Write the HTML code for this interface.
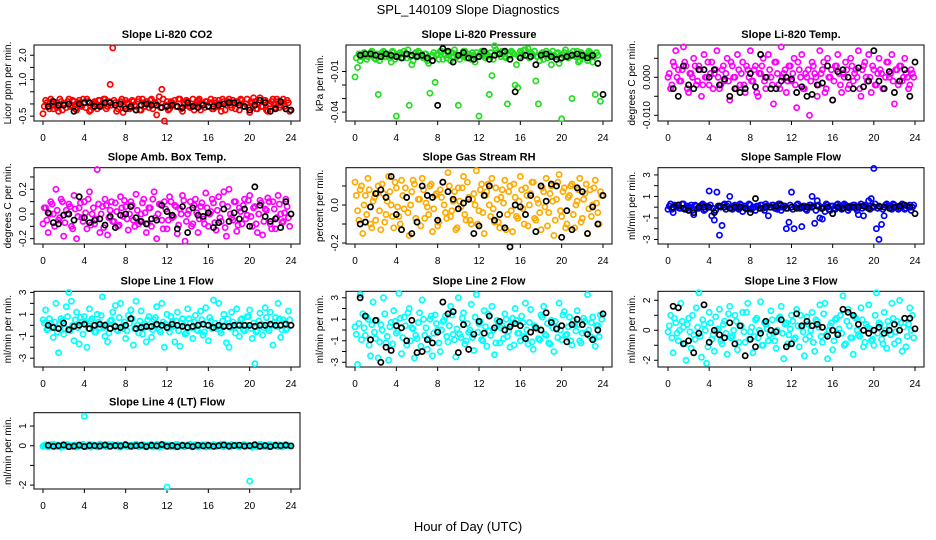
<!DOCTYPE html>
<html><head><meta charset="utf-8"><style>
html,body{margin:0;padding:0;background:#fff;}
svg{display:block;font-family:"Liberation Sans",sans-serif;}
</style></head><body>
<svg id="chart" width="936" height="540" viewBox="0 0 936 540">
<text x="468" y="14" text-anchor="middle" font-size="13">SPL_140109  Slope Diagnostics</text>
<text x="468" y="531" text-anchor="middle" font-size="13">Hour of Day (UTC)</text>
</svg>
<script>
const xTicks = [0,4,8,12,16,20,24];
const titles = ["Slope Li-820 CO2","Slope Li-820 Pressure","Slope Li-820 Temp.","Slope Amb. Box Temp.","Slope Gas Stream RH","Slope Sample Flow","Slope Line 1 Flow","Slope Line 2 Flow","Slope Line 3 Flow","Slope Line 4 (LT) Flow"];
const yTitles = ["Licor ppm per min.","kPa per min.","degrees C per min.","degrees C per min.","percent per min.","ml/min per min.","ml/min per min.","ml/min per min.","ml/min per min.","ml/min per min."];
const colors = ["#ff0000","#22dd22","#ff00ff","#ff00ff","#ffaa00","#0000ff","#00ffff","#00ffff","#00ffff","#00ffff"];
const scales = [1,0.001,0.0001,0.01,0.01,0.1,0.1,0.1,0.1,0.01];
const yTickVals = [[2,1.5,1,0.5,0,-0.5],[-0.01,-0.02,-0.03,-0.04],[0.005,0,-0.005,-0.01],[0.3,0.2,0.1,0,-0.1,-0.2],[0.1,0,-0.1,-0.2],[3,2,1,0,-1,-2,-3],[3,2,1,0,-1,-2,-3],[3,2,1,0,-1,-2,-3],[2,1,0,-1,-2],[1,0,-1,-2]];
const yTickLabels = [["2.0","","1.0","","","-0.5"],["-0.01","","","-0.04"],["","0.000","","-0.010"],["","0.2","","0.0","","-0.2"],["","0.0","","-0.2"],["3","","1","","-1","","-3"],["3","","1","","-1","","-3"],["3","","1","","-1","","-3"],["2","","0","","-2"],["1","0","","-2"]];
const yRanges = [[-0.7,2.42],[-0.0466,0.0096],[-0.0115,0.0085],[-0.243,0.375],[-0.205,0.196],[-3.42,3.67],[-3.8,3.1],[-3.44,3.6],[-2.45,2.6],[-2.2,1.68]];

const colorSeries = [
[-0.4,0.15,-0.1,0.2,-0.2,0.05,-0.3,0.1,0.0,-0.15,0.2,-0.05,0.1,-0.25,0.15,-0.1,0.05,0.2,-0.3,0.0,0.1,-0.2,0.15,-0.05,0.2,-0.1,0.8,2.3,0.05,-0.2,0.1,-0.35,0.15,0.0,-0.15,0.1,-0.1,0.2,-0.25,0.05,0.1,-0.15,0.2,0.0,-0.45,0.3,0.6,-0.7,0.1,-0.2,0.05,0.15,-0.1,0.2,-0.3,0.0,0.1,-0.15,0.2,-0.05,0.15,-0.25,0.0,0.1,-0.1,0.2,-0.2,0.05,0.15,-0.3,0.1,-0.05,0.2,-0.15,0.0,0.1,-0.25,0.15,-0.1,0.2,-0.35,0.05,0.1,-0.2,0.25,-0.1,0.15,-0.3,0.0,0.2,-0.15,0.1,-0.05,0.2,-0.2,0.05],
[-14,-7,-2,2,3,1,4,2,-1,-27,3,5,1,2,-3,4,-43,2,3,5,0,-35,-5,3,2,4,1,3,-2,-26,2,-18,3,5,-1,2,4,-2,1,3,-35,2,5,0,3,-1,2,4,-43,5,3,1,-27,-13,9,4,3,5,1,-34,2,4,-20,-22,5,3,6,7,4,2,-17,-34,3,-1,5,2,-5,2,3,-4,-45,4,2,3,-30,2,5,-2,3,1,-2,4,-3,-27,2,-32],
[0,-30,40,70,20,-10,80,30,-40,10,50,-20,30,-50,60,0,-20,40,10,70,-30,20,-10,50,-60,30,0,60,-20,40,-40,20,70,-10,30,-50,10,50,-30,60,0,-70,40,-20,80,10,-40,30,-10,50,-80,20,60,-30,0,-100,40,10,-50,70,20,-40,50,0,-60,30,60,-20,10,40,-30,50,-10,20,70,-50,30,0,60,-40,20,-20,50,10,-30,40,0,60,-70,20,30,-10,50,0,-20,10],
[-8,5,-15,10,0,20,-5,12,-18,3,8,-10,15,-20,5,-3,10,-12,18,0,-8,36,-15,6,12,-17,3,-6,9,-10,14,-2,6,-13,10,-5,16,-8,0,12,-15,5,-10,18,-20,8,-5,10,-12,14,-3,7,-16,4,15,-22,0,10,-8,12,-15,6,-4,17,-10,2,9,-13,14,-6,18,-18,20,-3,10,-14,5,-8,12,-1,15,-10,6,-15,11,-17,4,13,-8,10,-12,15,0,-6,12,-3],
[12,-3,8,-15,5,14,-10,2,-8,10,-13,6,-5,15,0,-12,9,-6,13,-2,4,-16,7,11,-9,3,14,-7,-1,10,-14,5,-11,8,12,-4,17,-6,2,-13,9,-1,15,-8,4,-10,6,18,-3,11,-15,7,0,14,-9,3,-12,8,13,-5,10,-14,4,-7,15,-2,9,-11,6,12,-8,1,-13,7,14,-4,10,-16,3,16,-6,9,-10,5,11,-12,2,14,-7,6,-15,8,0,13,-4,7],
[-2,3,-5,1,2,-1,3,-2,0,2,-7,1,-1,2,-3,1,15,-8,-12,14,-26,-17,3,1,10,-2,2,-1,3,-4,1,-2,2,0,-3,1,2,-1,3,-8,0,2,-1,3,-3,1,-20,-14,14,-20,2,-1,-18,1,-3,2,10,-15,6,-10,-11,-4,2,-3,1,-2,3,0,-1,2,-3,1,2,-1,-7,3,-8,0,6,8,36,-20,-30,-16,-8,3,1,-2,2,0,-1,3,-2,1,2,0],
[5,14,-3,2,-11,20,-25,6,-8,17,30,22,-14,12,-17,3,8,-20,15,6,-6,10,-2,26,-10,-15,4,12,18,-5,20,-3,-12,9,14,-18,22,-7,13,-2,-15,8,-11,5,17,-4,20,-20,10,-6,3,-15,12,-19,6,-8,15,2,-12,9,-5,13,-9,16,-14,4,23,-3,20,-7,10,-16,-20,12,-2,15,-10,6,-5,8,14,-12,-35,-5,11,-9,16,-3,12,-18,7,20,-11,5,-4,13],
[3,-32,33,15,-5,10,-24,26,-8,-26,5,30,-12,-28,7,18,-3,34,-22,12,-14,20,2,-26,-8,16,28,-5,-18,10,-24,14,0,-20,8,13,-11,22,-4,-25,30,-7,16,-10,-2,24,-19,33,6,-9,18,-15,-1,22,-23,9,-12,4,15,-6,-16,11,20,-3,-10,7,25,-13,19,-18,3,-8,14,22,-5,-12,9,-20,2,25,-9,17,-4,12,-14,5,18,-10,-3,8,33,-6,12,-15,4,14],
[-1,10,-15,5,-7,18,2,-20,8,-12,-3,15,25,-18,4,-22,12,-6,-14,0,14,-9,6,-16,16,-4,10,-13,3,12,-8,18,-1,-15,7,-5,19,-10,4,-7,13,-2,-12,8,16,-19,5,-3,10,-6,14,-11,2,-17,9,-4,12,-14,6,17,-8,18,-19,3,-13,7,-2,10,23,-9,14,-5,-16,8,-3,15,-11,4,17,-7,-10,25,5,-6,12,-12,3,18,-9,6,20,-14,8,-4,15,10],
[-3,5,-6,2,8,-4,1,-8,6,-2,4,-5,3,-7,5,0,150,-4,7,-2,3,-6,8,-1,4,-5,2,6,-3,5,-7,1,6,-4,3,-2,8,-5,0,4,-6,2,7,-3,5,-8,1,6,-210,-4,3,-6,7,-1,4,-5,2,8,-3,5,-6,0,4,-7,3,-2,6,-4,1,7,-5,2,-3,6,-1,4,-6,3,5,-2,-180,-8,4,-5,7,-2,3,-6,5,-1,6,-4,2,-3,7,0],
];
const colorSeries2 = [
[-0.1,0.05,-0.2,0.1,-0.05,-0.15,0.2,-0.25,0.0,0.1,-0.1,0.15,-0.2,0.05,-0.05,0.2,-0.15,0.1,-0.25,0.05,0.0,0.15,-0.1,0.2,-0.2,0.1,-0.05,0.15,-0.3,0.0,0.2,-0.1,0.05,-0.2,0.15,-0.05,0.1,-0.25,0.2,-0.1,0.0,0.15,-0.2,0.05,0.1,-0.15,0.2,-0.05,-0.25,0.1,0.0,-0.1,0.2,-0.2,0.05,0.15,-0.1,0.0,-0.25,0.1,0.2,-0.05,-0.15,0.1,0.05,-0.2,0.15,-0.1,0.0,0.2,-0.25,0.1,-0.05,0.15,-0.2,0.05,0.2,-0.1,0.0,-0.15,0.1,0.25,-0.2,0.05,-0.1,0.15,-0.25,0.0,0.1,-0.05,0.2,-0.15,0.05,-0.1,0.15,-0.3],
[0,3,1,4,-1,2,5,0,3,-2,4,1,3,0,5,-1,2,4,0,3,6,1,-2,4,5,2,0,3,-4,1,4,2,-1,5,3,0,2,4,6,1,-1,3,5,0,2,4,-3,1,3,5,0,2,4,-1,6,3,1,4,0,2,5,3,-5,1,4,6,2,0,3,5,1,-2,4,2,0,3,5,1,4,-1,2,6,0,3,5,1,-3,4,2,0,5,3,1,4],
[10,-20,30,0,-10,20,40,-30,10,0,30,-10,20,-20,0,40,10,-30,20,0,-20,30,10,-10,40,0,-30,20,10,-20,30,0,-10,20,-40,10,30,-10,0,20,-20,40,10,-30,0,20,-10,30,10,-20,40,0,-30,10,20,-10,30,0,-20,10,40,-30,0,20,-10,30,10,-40,0,20,-20,30,10,0,-30,20,40,-10,0,30,-20,10,20,-30,0,40,10,-10,20,-20,30,0,10,-30,20,0],
[5,-5,0,8,-10,3,-3,10,-7,0,6,-12,4,-2,9,-6,1,12,-9,5,-4,8,0,-11,7,-3,10,-6,2,-9,5,11,-4,0,7,-10,3,-6,9,1,-8,5,12,-3,0,8,-12,4,-5,10,-2,6,-9,0,11,-6,3,-10,7,1,-4,9,-8,5,0,12,-7,3,-3,8,-11,6,0,-5,10,-9,2,7,-4,11,-2,5,-8,0,9,-6,3,10,-12,4,-3,8,-7,1,6,-10],
[5,-8,10,0,-5,8,-12,4,6,-3,11,-9,2,7,-6,12,-1,-10,5,9,-4,0,13,-7,3,-11,8,1,-5,11,-2,6,-9,4,0,-7,10,-3,7,-12,2,9,-5,12,-8,3,0,-10,8,-4,5,11,-6,-2,9,-9,4,1,-13,7,-3,11,-6,2,8,-10,5,0,12,-7,3,-4,9,-1,-11,6,2,-8,12,-3,7,-12,4,10,-5,0,8,-9,3,11,-2,-6,9,1,-10,5],
[1,-2,2,0,-1,3,-2,1,0,-3,2,-1,1,3,-2,0,2,-1,-3,1,0,2,-2,3,-1,1,0,-2,2,1,-1,3,-2,0,1,-1,2,-3,1,0,2,-1,-2,3,0,1,-1,2,-2,0,3,-1,1,-2,0,2,1,-3,2,-1,0,3,-2,1,-1,2,0,-2,3,1,-1,0,2,-3,1,-1,2,0,-2,1,3,-1,0,-2,2,1,-1,3,0,-2,1,2,-1,0,-3,2],
[2,-4,6,-1,3,-6,1,4,-3,8,-5,0,5,-2,7,-8,2,-3,4,0,-6,3,9,-2,1,-7,5,0,-4,7,-1,3,-5,2,6,-3,0,4,-8,1,5,-2,-4,7,0,-6,3,1,-3,8,-1,4,-5,2,0,-7,6,-2,3,-4,1,5,-6,0,7,-3,2,-1,-5,4,0,6,-2,3,-7,1,5,-4,0,8,-3,2,-6,4,1,-2,7,-5,0,3,-1,6,-4,2,-3,5],
[-4,6,-9,2,12,-14,5,-2,9,-11,0,15,-6,3,-13,8,-1,11,-7,4,16,-10,1,-5,7,-15,10,2,-8,13,-3,6,-12,0,9,-6,4,14,-9,1,-4,11,-13,6,0,-7,12,-2,8,-10,3,15,-5,0,-12,7,2,-8,10,-1,5,-14,9,-3,13,-6,0,7,-11,4,1,-9,12,-4,6,-13,2,8,-7,0,14,-5,3,-10,9,-1,5,-12,11,-3,0,7,-8,4,-6,10],
[3,-5,8,-2,0,6,-9,4,-1,10,-6,2,-4,7,0,-11,5,-3,9,1,-7,4,-2,11,-5,0,6,-8,3,-1,12,-6,2,-4,8,0,-10,5,1,-3,7,-7,0,9,-2,4,-9,1,6,-5,3,10,-1,-6,4,0,-8,7,2,-4,11,-3,0,5,-7,8,1,-2,-10,6,3,-5,9,0,-4,7,-8,2,1,-6,10,-2,4,-9,0,6,-3,8,-1,-7,5,2,-11,4,0,-5],
[2,-3,5,-1,0,4,-6,3,-2,6,-4,1,0,-5,3,7,-2,1,-7,4,0,-3,5,2,-4,6,-1,0,3,-6,2,5,-3,1,-5,4,0,-2,6,-4,3,1,-6,0,5,-3,2,-1,4,-5,0,6,-2,3,-4,1,5,-6,0,2,-3,4,-1,6,-5,0,3,-2,1,-4,5,2,-6,0,4,-3,1,6,-2,0,-5,3,2,-1,5,-4,0,6,-3,1,-2,4,-6,3,0,-1],
];
const blackSeries = [
[-0.1,0.1,-0.05,-0.05,0.0,-0.3,0.0,0.05,0.05,-0.1,-0.1,0.05,0.05,-0.05,0.0,-0.2,-0.1,-0.25,-0.05,0.0,-0.05,-0.05,-0.15,-0.1,-0.05,-0.1,-0.15,0.05,-0.1,-0.15,-0.05,-0.1,-0.1,-0.05,0.0,0.05,0.05,-0.05,-0.1,-0.25,-0.05,0.15,0.05,-0.3,-0.2,0.1,-0.2,-0.25],
[2,3,3,2,1,3,2,1,0,3,2,1,2,0,-2,-35,7,5,-3,2,4,0,-1,1,5,-1,2,3,5,-1,-25,0,2,1,-5,2,3,1,-1,0,1,2,3,2,0,2,-4,-27],
[-30,-50,30,-20,-30,20,20,0,20,-20,-5,-50,-30,-40,-30,10,-25,60,0,-30,-30,-10,0,-5,-40,-25,-50,-45,-20,-15,30,-60,15,20,0,-30,25,-25,-10,70,-10,-30,15,-40,-10,20,-50,40],
[1,-7,-8,-1,0,-5,14,-3,-7,-5,-4,-9,-2,-11,-1,0,6,-3,-6,-8,-4,-5,7,2,-1,-12,6,-15,5,-1,-2,1,-11,-7,4,-6,1,-4,4,-10,22,7,-2,-6,-4,-11,10,0],
[-10,-9,-1,6,8,4,15,-5,-13,4,-15,-9,10,5,4,-8,12,7,3,-2,1,3,-15,-11,5,10,-8,-5,-12,-22,0,-1,-5,5,-14,10,2,11,10,-17,-3,-13,9,7,-15,-1,-10,5],
[0,2,-1,-3,-5,0,0,0,-5,1,0,-1,0,0,-1,-5,8,-1,0,0,1,2,-1,0,-1,0,0,0,1,-1,0,-6,0,-1,0,0,0,1,-1,0,1,0,-1,0,1,2,0,-6],
[0,-2,-3,2,-4,-1,0,1,-3,0,1,0,-3,-1,-2,0,6,-3,-2,-1,-1,1,0,-2,1,0,-1,-2,-1,0,1,0,-2,0,-1,-1,0,0,0,0,-1,0,0,1,0,0,1,0],
[30,13,-9,9,-30,-16,-19,4,2,-10,9,-21,-20,-9,-12,-2,26,15,17,-21,5,-18,-4,8,-3,13,2,8,0,3,6,4,-8,-2,2,0,16,7,1,4,-11,5,10,5,-4,-9,0,15],
[16,15,-9,-7,-15,-2,17,-8,0,-3,-5,5,-9,3,-17,-6,-11,-2,6,0,-1,7,-11,-9,11,3,6,3,4,2,-4,0,-3,14,12,10,4,0,-2,0,2,-2,0,4,0,8,8,1],
[2,-3,0,4,-5,-2,3,-4,1,0,-2,4,-3,1,-1,5,-2,0,3,-4,2,-1,6,-3,1,-5,2,0,-4,3,-1,2,-3,0,4,-2,1,3,-2,0,5,-3,1,-4,2,0,3,-1],
];

const NS = "http://www.w3.org/2000/svg";
const svg = document.getElementById("chart");
const colX = [[34,300,43,291],[346,612,355,603],[658,924,668,915]];
const rowY = [[45,121],[167.7,244],[291.3,367],[412.7,489]];
function mk(tag, attrs, parent){const e=document.createElementNS(NS,tag);for(const k in attrs)e.setAttribute(k,attrs[k]);(parent||svg).appendChild(e);return e;}

for(let p=0;p<10;p++){
  const c=colX[p%3], r=rowY[Math.floor(p/3)];
  const g=mk("g",{});
  
  
  const xs=h=>c[2]+(c[3]-c[2])*h/24;
  const [y0,y1]=yRanges[p];
  const ys=v=>r[1]-(v-y0)/(y1-y0)*(r[1]-r[0]);
  const box=mk("rect",{x:c[0],y:r[0],width:c[1]-c[0],height:r[1]-r[0],fill:"none",stroke:"#000","stroke-width":1},g);
  
  
  const t=mk("text",{x:(c[0]+c[1])/2,y:r[0]-7,"text-anchor":"middle","font-size":11,"font-weight":"bold"},g);
  t.textContent=titles[p];
  
  
  const yt=mk("text",{x:0,y:0,"text-anchor":"middle","font-size":10,transform:`translate(${c[0]-23},${(r[0]+r[1])/2}) rotate(-90)`},g);
  yt.textContent=yTitles[p];
  
  
  mk("line",{x1:xs(0),x2:xs(24),y1:r[1],y2:r[1],stroke:"#000"},g);
  xTicks.forEach(h=>{
    mk("line",{x1:xs(h),x2:xs(h),y1:r[1],y2:r[1]+4,stroke:"#000"},g);
    const tl=mk("text",{x:xs(h),y:r[1]+20,"text-anchor":"middle","font-size":10},g);
    tl.textContent=h;
    
    
  });
  yTickVals[p].forEach((v,i)=>{
    mk("line",{x1:c[0]-4,x2:c[0],y1:ys(v),y2:ys(v),stroke:"#000"},g);
    const lab=yTickLabels[p][i];
    if(lab){
      const tl=mk("text",{x:0,y:0,"text-anchor":"middle","font-size":10,transform:`translate(${c[0]-8},${ys(v)}) rotate(-90)`},g);
      tl.textContent=lab;
      
      
    }
  });
  colorSeries2[p].forEach((v,i)=>{
    const pt=mk("circle",{cx:xs(i*0.25+0.125),cy:ys(v*scales[p]),r:2.6,fill:"none",stroke:colors[p],"stroke-width":1.7},g);
    
    
  });
  colorSeries[p].forEach((v,i)=>{
    const pt=mk("circle",{cx:xs(i*0.25),cy:ys(v*scales[p]),r:2.6,fill:"none",stroke:colors[p],"stroke-width":1.7},g);
    
    
  });
  blackSeries[p].forEach((v,i)=>{
    const pt=mk("circle",{cx:xs((i+1)*0.5),cy:ys(v*scales[p]),r:2.6,fill:"none",stroke:"#000","stroke-width":1.7},g);
    
    
  });
}
</script>
</body></html>
